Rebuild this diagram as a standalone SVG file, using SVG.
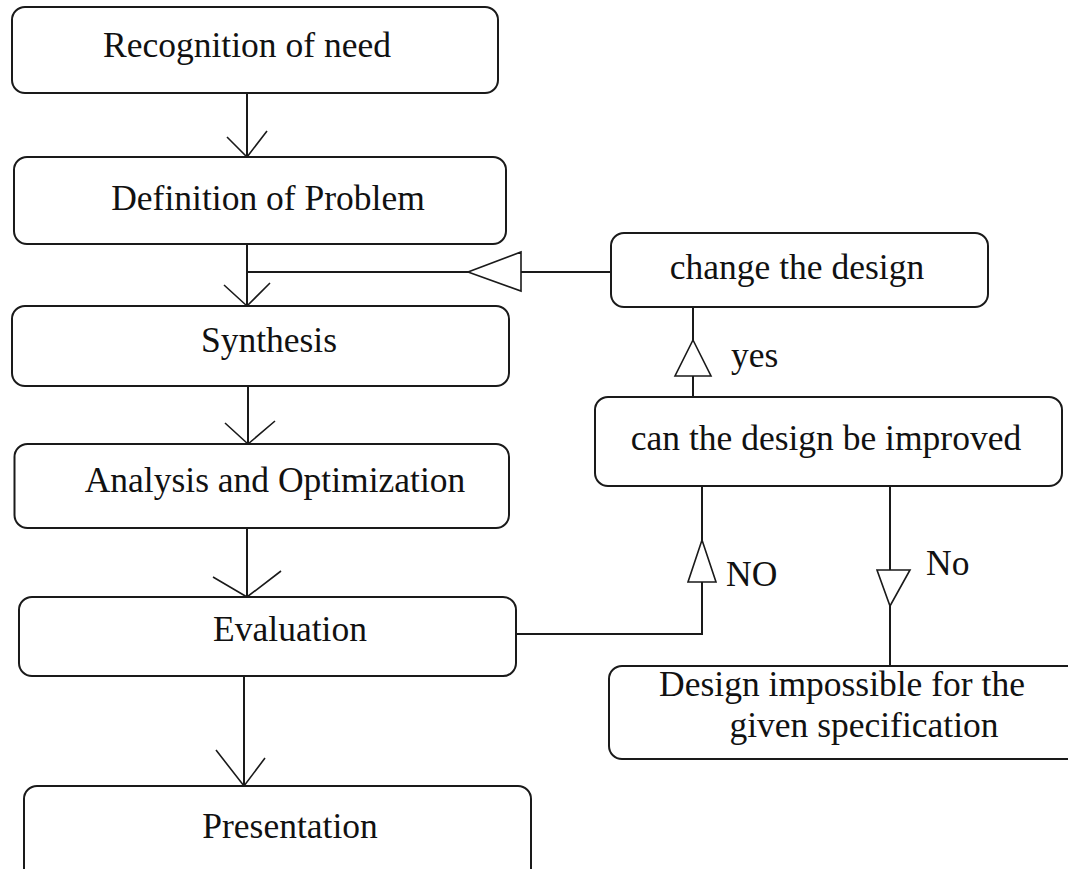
<svg xmlns="http://www.w3.org/2000/svg" width="1068" height="869" viewBox="0 0 1068 869">
  <style>
    .box { fill: #ffffff; stroke: #1a1a1a; stroke-width: 2; }
    .lbl { font-family: "Liberation Serif", "Times New Roman", serif; font-size: 35.5px; fill: #111111; }
    .mid { text-anchor: middle; }
    .wire { fill: none; stroke: #1a1a1a; stroke-width: 2; }
    .vee { fill: none; stroke: #1a1a1a; stroke-width: 1.6; stroke-linejoin: miter; }
    .tri { fill: #ffffff; stroke: #1a1a1a; stroke-width: 1.6; stroke-linejoin: miter; }
  </style>
  <rect x="0" y="0" width="1068" height="869" fill="#ffffff"/>

  <!-- connectors -->
  <g id="connectors">
    <!-- main flow -->
    <line class="wire" x1="247" y1="93" x2="247" y2="157"/>
    <polyline class="vee" points="227,137 247,157 267,131"/>

    <line class="wire" x1="247" y1="244" x2="247" y2="306"/>
    <polyline class="vee" points="224,285 247,306 270,283"/>

    <line class="wire" x1="248" y1="386" x2="248" y2="444"/>
    <polyline class="vee" points="225,423 248,444 275,421"/>

    <line class="wire" x1="247" y1="528" x2="247" y2="597"/>
    <polyline class="vee" points="213,577 247,597 281,571"/>

    <line class="wire" x1="244" y1="676" x2="244" y2="786"/>
    <polyline class="vee" points="216,750 244,786 265,758"/>

    <!-- feedback: change the design back into synthesis -->
    <line class="wire" x1="247" y1="272" x2="611" y2="272"/>
    <polygon class="tri" points="468,272 521,252 521,291"/>

    <!-- yes: improvable -> change the design -->
    <line class="wire" x1="693" y1="397" x2="693" y2="307"/>
    <polygon class="tri" points="693,340 711,376 675,376"/>

    <!-- NO: evaluation -> can the design be improved -->
    <polyline class="wire" points="516,634 702,634 702,486"/>
    <polygon class="tri" points="702,540 716,582 688,582"/>

    <!-- No: not improvable -> impossible -->
    <line class="wire" x1="890" y1="486" x2="890" y2="666"/>
    <polygon class="tri" points="877,570 910,570 890,606"/>

    <text class="lbl" x="731" y="367">yes</text>
    <text class="lbl" x="726" y="586">NO</text>
    <text class="lbl" x="926" y="575">No</text>
  </g>

  <g id="recognition">
    <rect class="box" x="12" y="7" width="486" height="86" rx="13"/>
    <text class="lbl mid" x="247" y="57">Recognition of need</text>
  </g>

  <g id="definition">
    <rect class="box" x="14" y="157" width="492" height="87" rx="13"/>
    <text class="lbl mid" x="268" y="210">Definition of Problem</text>
  </g>

  <g id="synthesis">
    <rect class="box" x="12" y="306" width="497" height="80" rx="13"/>
    <text class="lbl mid" x="269" y="352">Synthesis</text>
  </g>

  <g id="analysis">
    <rect class="box" x="14.5" y="444" width="494.5" height="84" rx="13"/>
    <text class="lbl mid" x="275" y="492">Analysis and Optimization</text>
  </g>

  <g id="evaluation">
    <rect class="box" x="19" y="597" width="497" height="79" rx="13"/>
    <text class="lbl mid" x="290" y="641">Evaluation</text>
  </g>

  <g id="presentation">
    <rect class="box" x="24" y="786" width="507" height="120" rx="13"/>
    <text class="lbl mid" x="290" y="838">Presentation</text>
  </g>

  <g id="change-design">
    <rect class="box" x="611" y="233" width="377" height="74" rx="13"/>
    <text class="lbl mid" x="797" y="279">change the design</text>
  </g>

  <g id="can-improve">
    <rect class="box" x="595" y="397" width="467" height="89" rx="13"/>
    <text class="lbl mid" x="826" y="450">can the design be improved</text>
  </g>

  <g id="impossible">
    <rect class="box" x="609" y="666" width="480" height="93" rx="13"/>
    <text class="lbl mid" x="842" y="696">Design impossible for the</text>
    <text class="lbl mid" x="864" y="737">given specification</text>
  </g>
</svg>
